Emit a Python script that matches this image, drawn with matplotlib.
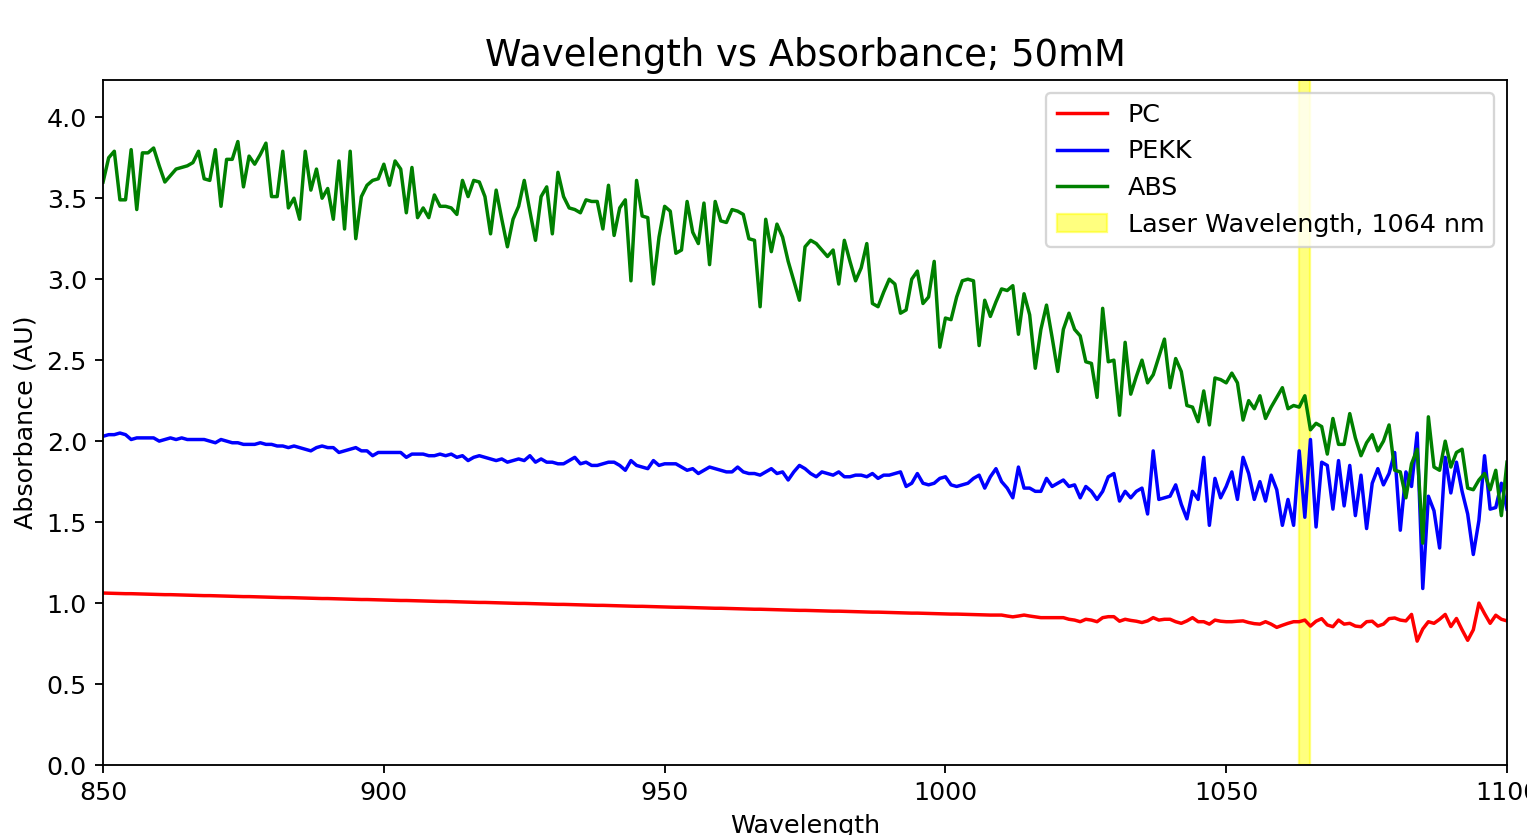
import numpy as np
import matplotlib
matplotlib.use("Agg")
import matplotlib.pyplot as plt

# wavelength grid (nm), one reading per nm
wavelength = np.arange(850, 1101)

pc = [1.062, 1.061, 1.060, 1.059, 1.058, 1.058, 1.057, 1.056, 1.055, 1.054,
      1.053, 1.052, 1.052, 1.051, 1.050, 1.049, 1.048, 1.047, 1.046, 1.046,
      1.045, 1.044, 1.043, 1.042, 1.041, 1.040, 1.040, 1.039, 1.038, 1.037,
      1.036, 1.035, 1.034, 1.034, 1.033, 1.032, 1.031, 1.030, 1.029, 1.028,
      1.028, 1.027, 1.026, 1.025, 1.024, 1.023, 1.022, 1.022, 1.021, 1.020,
      1.019, 1.018, 1.017, 1.016, 1.016, 1.015, 1.014, 1.013, 1.012, 1.011,
      1.010, 1.010, 1.009, 1.008, 1.007, 1.006, 1.005, 1.004, 1.004, 1.003,
      1.002, 1.001, 1.000, 0.999, 0.998, 0.998, 0.997, 0.996, 0.995, 0.994,
      0.993, 0.992, 0.992, 0.991, 0.990, 0.989, 0.988, 0.987, 0.986, 0.986,
      0.985, 0.984, 0.983, 0.982, 0.981, 0.980, 0.980, 0.979, 0.978, 0.977,
      0.976, 0.975, 0.974, 0.974, 0.973, 0.972, 0.971, 0.970, 0.969, 0.968,
      0.968, 0.967, 0.966, 0.965, 0.964, 0.963, 0.962, 0.962, 0.961, 0.960,
      0.959, 0.958, 0.957, 0.956, 0.955, 0.955, 0.954, 0.953, 0.952, 0.951,
      0.950, 0.950, 0.949, 0.948, 0.947, 0.946, 0.945, 0.944, 0.944, 0.943,
      0.942, 0.941, 0.940, 0.939, 0.938, 0.938, 0.937, 0.936, 0.935, 0.934,
      0.933, 0.932, 0.932, 0.931, 0.930, 0.929, 0.928, 0.927, 0.926, 0.926,
      0.926, 0.920, 0.915, 0.920, 0.926, 0.920, 0.915, 0.910, 0.910, 0.910,
      0.910, 0.910, 0.900, 0.895, 0.885, 0.900, 0.895, 0.885, 0.910, 0.916,
      0.916, 0.888, 0.900, 0.893, 0.888, 0.880, 0.890, 0.910, 0.895, 0.900,
      0.900, 0.885, 0.875, 0.890, 0.910, 0.885, 0.885, 0.870, 0.895, 0.888,
      0.885, 0.885, 0.888, 0.890, 0.880, 0.873, 0.870, 0.885, 0.870, 0.850,
      0.863, 0.875, 0.885, 0.885, 0.895, 0.858, 0.888, 0.904, 0.865, 0.854,
      0.895, 0.870, 0.875, 0.858, 0.854, 0.885, 0.888, 0.858, 0.870, 0.904,
      0.908, 0.895, 0.890, 0.930, 0.765, 0.840, 0.885, 0.875, 0.900, 0.930,
      0.855, 0.905, 0.835, 0.770, 0.835, 1.000, 0.935, 0.875, 0.925, 0.900,
      0.890]

pekk = [2.03, 2.04, 2.04, 2.05, 2.04, 2.01, 2.02, 2.02, 2.02, 2.02,
        2.00, 2.01, 2.02, 2.01, 2.02, 2.01, 2.01, 2.01, 2.01, 2.00,
        1.99, 2.01, 2.00, 1.99, 1.99, 1.98, 1.98, 1.98, 1.99, 1.98,
        1.98, 1.97, 1.97, 1.96, 1.97, 1.96, 1.95, 1.94, 1.96, 1.97,
        1.96, 1.96, 1.93, 1.94, 1.95, 1.96, 1.94, 1.94, 1.91, 1.93,
        1.93, 1.93, 1.93, 1.93, 1.90, 1.92, 1.92, 1.92, 1.91, 1.91,
        1.92, 1.91, 1.92, 1.90, 1.91, 1.88, 1.90, 1.91, 1.90, 1.89,
        1.88, 1.89, 1.87, 1.88, 1.89, 1.88, 1.91, 1.87, 1.89, 1.87,
        1.87, 1.86, 1.86, 1.88, 1.90, 1.86, 1.87, 1.85, 1.85, 1.86,
        1.87, 1.87, 1.85, 1.82, 1.88, 1.85, 1.84, 1.83, 1.88, 1.85,
        1.86, 1.86, 1.86, 1.84, 1.82, 1.83, 1.80, 1.82, 1.84, 1.83,
        1.82, 1.81, 1.81, 1.84, 1.81, 1.80, 1.80, 1.79, 1.81, 1.83,
        1.80, 1.81, 1.76, 1.81, 1.85, 1.83, 1.80, 1.78, 1.81, 1.80,
        1.79, 1.81, 1.78, 1.78, 1.79, 1.79, 1.78, 1.80, 1.77, 1.79,
        1.79, 1.80, 1.81, 1.72, 1.74, 1.80, 1.74, 1.73, 1.74, 1.77,
        1.78, 1.73, 1.72, 1.73, 1.74, 1.77, 1.79, 1.71, 1.78, 1.83,
        1.75, 1.71, 1.65, 1.84, 1.71, 1.71, 1.69, 1.69, 1.77, 1.72,
        1.74, 1.76, 1.72, 1.73, 1.65, 1.72, 1.69, 1.64, 1.69, 1.78,
        1.80, 1.63, 1.69, 1.65, 1.69, 1.71, 1.55, 1.94, 1.64, 1.65,
        1.66, 1.73, 1.61, 1.52, 1.69, 1.64, 1.90, 1.48, 1.77, 1.65,
        1.72, 1.81, 1.64, 1.90, 1.80, 1.64, 1.75, 1.63, 1.79, 1.70,
        1.48, 1.64, 1.48, 1.94, 1.53, 2.01, 1.47, 1.87, 1.85, 1.58,
        1.88, 1.60, 1.85, 1.54, 1.79, 1.46, 1.74, 1.83, 1.73, 1.80,
        1.93, 1.45, 1.81, 1.72, 2.05, 1.09, 1.66, 1.57, 1.34, 1.90,
        1.68, 1.87, 1.69, 1.55, 1.30, 1.51, 1.91, 1.58, 1.59, 1.74,
        1.58]

abs_ = [3.60, 3.75, 3.79, 3.49, 3.49, 3.80, 3.43, 3.78, 3.78, 3.81,
        3.70, 3.60, 3.64, 3.68, 3.69, 3.70, 3.72, 3.79, 3.62, 3.61,
        3.80, 3.45, 3.74, 3.74, 3.85, 3.57, 3.76, 3.71, 3.77, 3.84,
        3.51, 3.51, 3.79, 3.44, 3.50, 3.37, 3.79, 3.55, 3.68, 3.50,
        3.56, 3.37, 3.73, 3.31, 3.79, 3.25, 3.51, 3.58, 3.61, 3.62,
        3.71, 3.58, 3.73, 3.68, 3.41, 3.69, 3.38, 3.44, 3.38, 3.52,
        3.45, 3.45, 3.44, 3.40, 3.61, 3.51, 3.61, 3.60, 3.51, 3.28,
        3.55, 3.37, 3.20, 3.37, 3.45, 3.61, 3.42, 3.24, 3.51, 3.57,
        3.28, 3.66, 3.51, 3.44, 3.43, 3.41, 3.49, 3.48, 3.48, 3.31,
        3.58, 3.27, 3.44, 3.49, 2.99, 3.61, 3.39, 3.38, 2.97, 3.26,
        3.45, 3.42, 3.16, 3.18, 3.48, 3.29, 3.22, 3.47, 3.09, 3.48,
        3.36, 3.35, 3.43, 3.42, 3.40, 3.25, 3.24, 2.83, 3.37, 3.17,
        3.34, 3.26, 3.11, 2.99, 2.87, 3.20, 3.24, 3.22, 3.18, 3.14,
        3.18, 2.97, 3.24, 3.11, 2.99, 3.07, 3.22, 2.85, 2.83, 2.92,
        3.00, 2.97, 2.79, 2.81, 3.00, 3.05, 2.85, 2.89, 3.11, 2.58,
        2.76, 2.75, 2.89, 2.99, 3.00, 2.99, 2.59, 2.87, 2.77, 2.86,
        2.94, 2.93, 2.96, 2.66, 2.91, 2.78, 2.45, 2.69, 2.84, 2.64,
        2.43, 2.69, 2.79, 2.69, 2.65, 2.49, 2.48, 2.27, 2.82, 2.49,
        2.50, 2.16, 2.61, 2.29, 2.40, 2.50, 2.36, 2.41, 2.52, 2.63,
        2.33, 2.51, 2.43, 2.22, 2.21, 2.12, 2.31, 2.10, 2.39, 2.38,
        2.36, 2.42, 2.36, 2.13, 2.25, 2.20, 2.28, 2.14, 2.21, 2.27,
        2.33, 2.20, 2.22, 2.21, 2.28, 2.07, 2.11, 2.09, 1.92, 2.14,
        1.98, 1.98, 2.17, 2.02, 1.91, 1.99, 2.04, 1.94, 2.00, 2.10,
        1.82, 1.81, 1.65, 1.86, 1.95, 1.37, 2.15, 1.84, 1.82, 2.00,
        1.84, 1.93, 1.95, 1.71, 1.70, 1.76, 1.80, 1.70, 1.82, 1.54,
        1.87]

laser_nm = 1064

plt.rcParams["font.size"] = 11

fig = plt.figure(figsize=(1527 / 166, 835 / 166), dpi=166)
ax = fig.add_axes([0.0675, 0.0838, 0.9194, 0.8204])
ax.plot(wavelength, pc, color="r", label="PC")
ax.plot(wavelength, pekk, color="b", label="PEKK")
ax.plot(wavelength, abs_, color="g", label="ABS")
ax.axvspan(laser_nm - 1, laser_nm + 1, color="yellow", alpha=0.5,
           label="Laser Wavelength, 1064 nm")
ax.set_xlim(850, 1100)
ax.set_ylim(0, 4.23)
ax.set_xlabel("Wavelength")
ax.set_ylabel("Absorbance (AU)")
ax.set_title("Wavelength vs Absorbance; 50mM", fontsize=16)
ax.legend(loc="upper right")
fig.savefig("out.png", dpi=166)
